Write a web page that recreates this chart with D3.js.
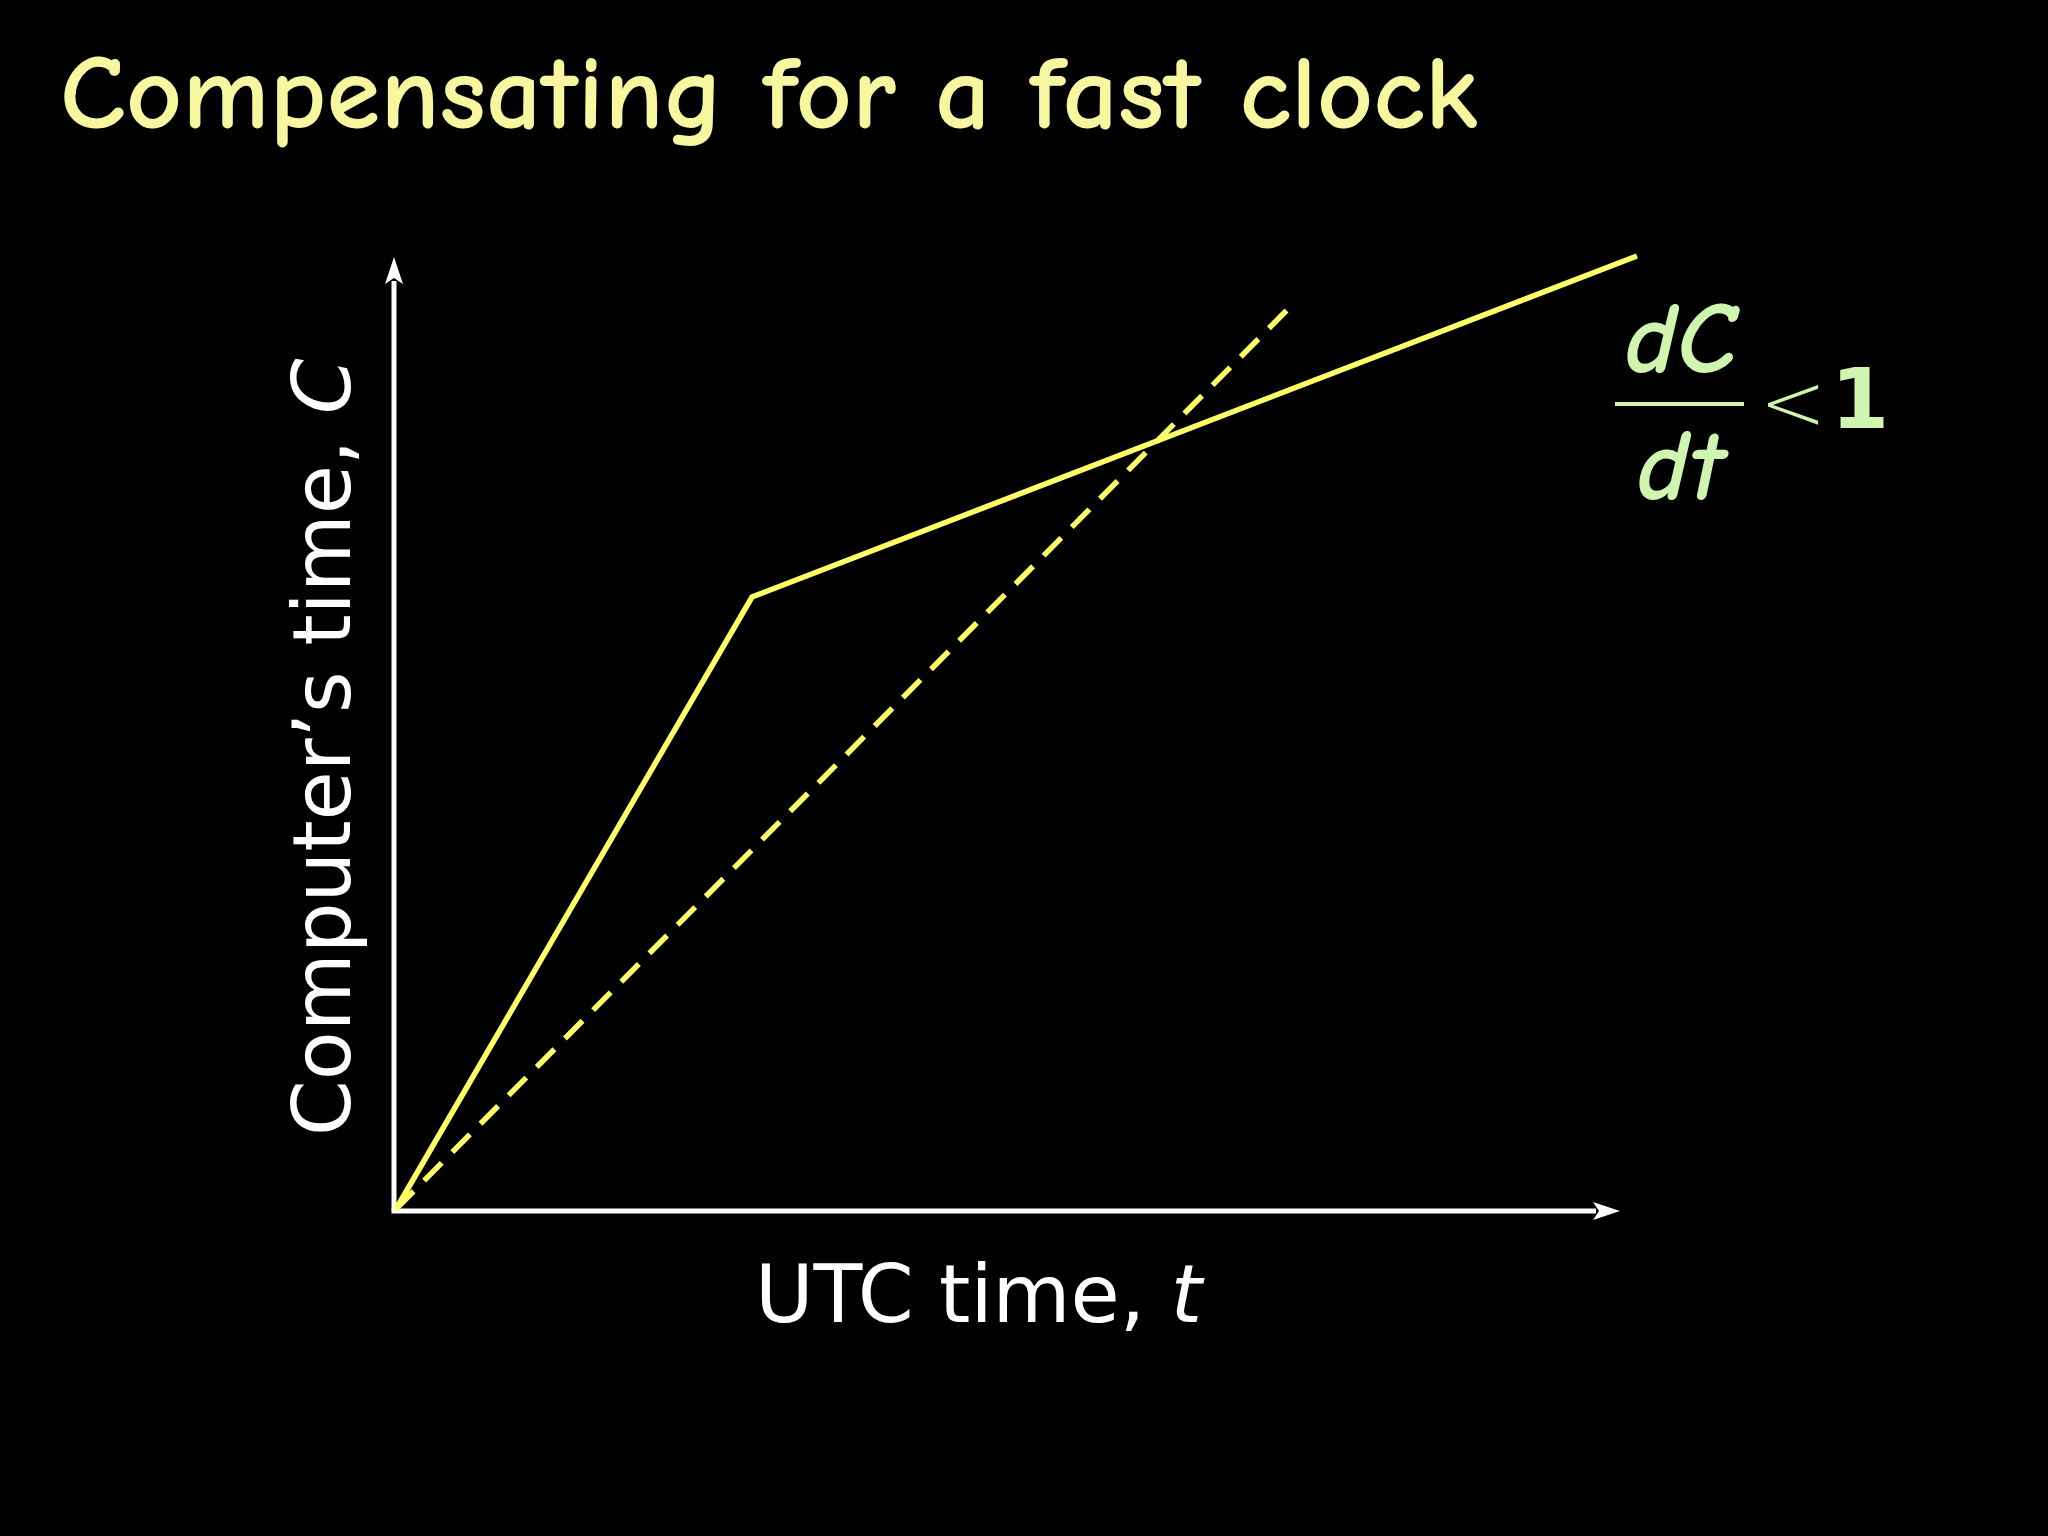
<!DOCTYPE html>
<html>
<head>
<meta charset="utf-8">
<script src="https://cdn.jsdelivr.net/npm/d3@7"></script>
<style>
  html, body { margin: 0; padding: 0; background: #000; }
  svg { display: block; }
</style>
</head>
<body>
<svg id="chart" width="2048" height="1536"></svg>
<script>
// ---- data ----
const title = "Compensating for a fast clock";
const xLabel = ["UTC time, ", "t"];
const yLabel = ["Computer\u2019s time, ", "C"];
// fast clock, then compensated (slowed) clock: [UTC t, computer C]
const compensatedT = [0.2, 35.8, 124.3];
const compensatedC = [0.2, 61.4, 95.5];
// ideal clock C = t
const idealT = [0.2, 89.6];
const idealC = [0.2, 90.4];
// axis extents (arrow tips)
const xAxisMax = 122.6;
const yAxisMax = 95.4;

// ---- scales ----
const W = 2048, H = 1536;
const x = d3.scaleLinear().domain([0, 130]).range([394, 1694]);
const y = d3.scaleLinear().domain([0, 100]).range([1211, 211]);

const svg = d3.select("#chart");
svg.append("rect").attr("width", W).attr("height", H).attr("fill", "#000");

// title
svg.append("text")
  .attr("x", 60).attr("y", 128)
  .attr("font-family", "'Comic Sans MS', 'Comic Neue', 'DejaVu Sans', sans-serif")
  .attr("font-size", 106)
  .attr("font-weight", "bold")
  .attr("fill", "#F7F7A0")
  .attr("textLength", 1418)
  .attr("lengthAdjust", "spacingAndGlyphs")
  .text(title);

// axes
const axisColor = "#FFFFFF";
const g = svg.append("g");
g.append("line")
  .attr("x1", x(0)).attr("y1", y(0))
  .attr("x2", x(0)).attr("y2", y(yAxisMax) + 24)
  .attr("stroke", axisColor).attr("stroke-width", 5);
g.append("line")
  .attr("x1", x(0) - 2.5).attr("y1", y(0))
  .attr("x2", x(xAxisMax) - 24).attr("y2", y(0))
  .attr("stroke", axisColor).attr("stroke-width", 5);
// arrowheads
const ty = [x(0), y(yAxisMax)];
g.append("path")
  .attr("d", `M${ty[0]},${ty[1]} L${ty[0] + 9},${ty[1] + 27} L${ty[0]},${ty[1] + 21} L${ty[0] - 9},${ty[1] + 27} Z`)
  .attr("fill", axisColor);
const tx = [x(xAxisMax), y(0)];
g.append("path")
  .attr("d", `M${tx[0]},${tx[1]} L${tx[0] - 27},${tx[1] - 9} L${tx[0] - 21},${tx[1]} L${tx[0] - 27},${tx[1] + 9} Z`)
  .attr("fill", axisColor);

// lines
const lineGen = d3.line().x(d => x(d[0])).y(d => y(d[1]));
const idealPts = d3.zip(idealT, idealC);
const compPts = d3.zip(compensatedT, compensatedC);

svg.append("path")
  .attr("d", lineGen(idealPts))
  .attr("fill", "none")
  .attr("stroke", "#FFFF66")
  .attr("stroke-width", 5.5)
  .attr("stroke-dasharray", "25,15");

svg.append("path")
  .attr("d", lineGen(compPts))
  .attr("fill", "none")
  .attr("stroke", "#FFFF66")
  .attr("stroke-width", 5.5)
  .attr("stroke-linejoin", "miter");

// axis labels
const labelFont = "'DejaVu Sans', Verdana, sans-serif";
const xl = svg.append("text")
  .attr("x", 755).attr("y", 1322)
  .attr("font-family", labelFont)
  .attr("font-size", 80)
  .attr("fill", "#FFFFFF");
xl.append("tspan").text(xLabel[0]);
xl.append("tspan").attr("font-style", "italic").text(xLabel[1]);

const yl = svg.append("text")
  .attr("transform", "translate(350,1136) rotate(-90)")
  .attr("font-family", labelFont)
  .attr("font-size", 80)
  .attr("fill", "#FFFFFF");
yl.append("tspan").text(yLabel[0]);
yl.append("tspan").attr("font-style", "italic").text(yLabel[1]);

// formula dC/dt < 1
const fColor = "#CFF5AE";
const fFont = "'Comic Neue', 'DejaVu Sans', sans-serif";
const f = svg.append("g");
f.append("text").attr("x", 1680).attr("y", 372)
  .attr("text-anchor", "middle")
  .attr("font-family", fFont).attr("font-style", "italic").attr("font-weight", "bold")
  .attr("font-size", 100).attr("fill", fColor).text("dC");
f.append("line").attr("x1", 1615).attr("x2", 1744)
  .attr("y1", 404).attr("y2", 404)
  .attr("stroke", fColor).attr("stroke-width", 4);
f.append("text").attr("x", 1680).attr("y", 499)
  .attr("text-anchor", "middle")
  .attr("font-family", fFont).attr("font-style", "italic").attr("font-weight", "bold")
  .attr("font-size", 100).attr("fill", fColor).text("dt");
f.append("text").attr("x", 1793).attr("y", 430)
  .attr("text-anchor", "middle")
  .attr("font-family", "'DejaVu Sans', sans-serif").attr("font-weight", 200)
  .attr("font-size", 80).attr("fill", fColor).text("<");
f.append("text").attr("x", 1860).attr("y", 428)
  .attr("text-anchor", "middle")
  .attr("font-family", "'DejaVu Sans', sans-serif").attr("font-weight", "bold")
  .attr("font-size", 84).attr("fill", fColor).text("1");
</script>
</body>
</html>
